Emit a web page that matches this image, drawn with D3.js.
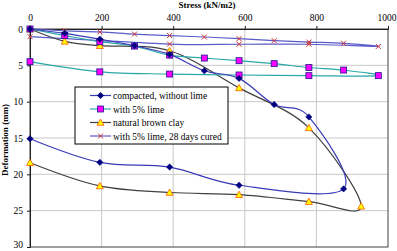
<!DOCTYPE html>
<html>
<head>
<meta charset="utf-8">
<script src="https://cdn.jsdelivr.net/npm/d3@7"></script>
<style>
  body { margin: 0; background: #fff; }
  svg text { font-family: "Liberation Serif", "Times New Roman", "DejaVu Serif", serif !important; }
</style>
</head>
<body>
<div id="chart"></div>
<script>
// Stress (kN/m2) steps, loading then unloading
const compactedStress = [0, 97, 195, 292, 390, 487, 584, 682, 779, 876, 584, 390, 195, 0];
const compactedDef    = [0, 0.6, 1.4, 2.3, 3.5, 5.75, 6.8, 10.4, 12.1, 22.0, 21.5, 19.0, 18.35, 15.1];

const limeStress = [0, 97, 195, 292, 390, 487, 584, 682, 779, 876, 973, 779, 584, 390, 195, 0];
const limeDef    = [0, 0.9, 1.75, 2.35, 3.6, 4.0, 4.36, 4.77, 5.3, 5.65, 6.42, 6.42, 6.33, 6.2, 5.9, 4.5];

const clayStress = [0, 97, 195, 390, 584, 779, 925, 779, 584, 390, 195, 0];
const clayDef    = [0, 1.7, 2.3, 3.0, 8.1, 13.6, 24.4, 23.75, 22.8, 22.5, 21.6, 18.4];

const curedStress = [0, 97, 195, 292, 390, 487, 584, 682, 779, 876, 973, 779, 584, 390, 0];
const curedDef    = [0, 0.25, 0.4, 0.7, 0.9, 1.1, 1.33, 1.6, 1.8, 1.97, 2.4, 2.1, 2.1, 2.07, 1.06];

const xTicks = [0, 200, 400, 600, 800, 1000];
const yTicks = [0, 5, 10, 15, 20, 25, 30];

const series = [
    { name: 'compacted, without lime', xs: compactedStress, ys: compactedDef,
      line: '#3a3ab8', marker: 'diamond', fill: '#000080', stroke: '#000080' },
    { name: 'with 5% lime', xs: limeStress, ys: limeDef,
      line: '#2aa8a8', marker: 'square', fill: '#ff00ff', stroke: '#1a1a90' },
    { name: 'natural brown clay', xs: clayStress, ys: clayDef,
      line: '#404040', marker: 'triangle', fill: '#ffff00', stroke: '#ff5a00' },
    { name: 'with 5% lime, 28 days cured', xs: curedStress, ys: curedDef,
      line: '#5a5ac8', marker: 'x', fill: 'none', stroke: '#d03030' }
];

const W = 397, H = 251;
const margin = { top: 29, right: 9, bottom: 4, left: 30 };
const width = W - margin.left - margin.right;
const height = H - margin.top - margin.bottom;

const svg = d3.select('#chart').append('svg')
    .attr('width', W)
    .attr('height', H);

const g = svg.append('g')
    .attr('transform', `translate(${margin.left},${margin.top})`);

// Scales
const x = d3.scaleLinear().domain([0, 1000]).range([0, width]);
const y = d3.scaleLinear().domain([0, 30]).range([0, height]);

// Gridlines
g.append('g').selectAll('line').data(xTicks.slice(1, -1)).enter().append('line')
    .attr('x1', d => x(d)).attr('x2', d => x(d))
    .attr('y1', 0).attr('y2', height)
    .attr('stroke', '#c8c8c8').attr('stroke-width', 1);
g.append('g').selectAll('line').data(yTicks.slice(1, -1)).enter().append('line')
    .attr('x1', 0).attr('x2', width)
    .attr('y1', d => y(d)).attr('y2', d => y(d))
    .attr('stroke', '#c8c8c8').attr('stroke-width', 1);

// Frame
g.append('rect')
    .attr('x', 0).attr('y', 0)
    .attr('width', width).attr('height', height)
    .attr('fill', 'none').attr('stroke', '#404040').attr('stroke-width', 1);

// Axes
const xAxis = d3.axisTop(x).tickValues(xTicks).tickFormat(d3.format('d')).tickSize(3).tickPadding(5);
const yAxis = d3.axisLeft(y).tickValues(yTicks).tickFormat(d3.format('d')).tickSize(3).tickPadding(4);

const gx = g.append('g').call(xAxis);
const gy = g.append('g').call(yAxis);

g.selectAll('.domain').attr('stroke', '#202020');
g.selectAll('.tick line').attr('stroke', '#202020');
g.selectAll('.tick text')
    .attr('fill', '#000')
    .style('font-size', '9.5px');

// keep the edge labels inside the window
gx.selectAll('.tick text').filter(d => d === 1000).attr('text-anchor', 'end').attr('dx', '8');
gy.selectAll('.tick text').filter(d => d === 30).attr('dy', '0.1em');

// Axis titles
svg.append('text')
    .attr('x', 207).attr('y', 8)
    .attr('text-anchor', 'middle')
    .style('font-size', '9px').style('font-weight', 'bold')
    .text('Stress (kN/m2)');

svg.append('text')
    .attr('transform', 'translate(8,140) rotate(-90)')
    .attr('text-anchor', 'middle')
    .style('font-size', '9px').style('font-weight', 'bold')
    .text('Deformation (mm)');

// Markers
function drawMarker(sel, s, cx, cy) {
    if (s.marker === 'diamond') {
        sel.append('path')
            .attr('d', `M${cx},${cy - 3.2}L${cx + 3.2},${cy}L${cx},${cy + 3.2}L${cx - 3.2},${cy}Z`)
            .attr('fill', s.fill).attr('stroke', s.stroke).attr('stroke-width', 0.5);
    } else if (s.marker === 'square') {
        sel.append('rect')
            .attr('x', cx - 3).attr('y', cy - 3).attr('width', 6).attr('height', 6)
            .attr('fill', s.fill).attr('stroke', s.stroke).attr('stroke-width', 0.8);
    } else if (s.marker === 'triangle') {
        sel.append('path')
            .attr('d', `M${cx},${cy - 3.5}L${cx + 3.5},${cy + 2.8}L${cx - 3.5},${cy + 2.8}Z`)
            .attr('fill', s.fill).attr('stroke', s.stroke).attr('stroke-width', 0.8);
    } else {
        sel.append('path')
            .attr('d', `M${cx - 2.5},${cy - 2.5}L${cx + 2.5},${cy + 2.5}M${cx + 2.5},${cy - 2.5}L${cx - 2.5},${cy + 2.5}`)
            .attr('stroke', s.stroke).attr('stroke-width', 1);
    }
}

const line = d3.line()
    .x(d => x(d[0]))
    .y(d => y(d[1]))
    .curve(d3.curveCatmullRom.alpha(0));

// Draw from back to front
series.slice().reverse().forEach(s => {
    const pts = s.xs.map((v, i) => [v, s.ys[i]]);
    g.append('path')
        .datum(pts)
        .attr('d', line)
        .attr('fill', 'none')
        .attr('stroke', s.line)
        .attr('stroke-width', 1.2);
});
series.slice().reverse().forEach(s => {
    const mg = g.append('g');
    s.xs.forEach((v, i) => drawMarker(mg, s, x(v), y(s.ys[i])));
});

// Legend
const lg = svg.append('g').attr('transform', 'translate(75,87)');
lg.append('rect')
    .attr('width', 153).attr('height', 57)
    .attr('fill', '#fff').attr('stroke', '#000').attr('stroke-width', 1);

series.forEach((s, i) => {
    const cy = 8.5 + i * 13.5;
    lg.append('line')
        .attr('x1', 15).attr('x2', 36)
        .attr('y1', cy).attr('y2', cy)
        .attr('stroke', s.line).attr('stroke-width', 1.2);
    drawMarker(lg, s, 25.5, cy);
    lg.append('text')
        .attr('x', 38).attr('y', cy + 3.5)
        .style('font-size', '9.5px')
        .text(s.name);
});
</script>
</body>
</html>
